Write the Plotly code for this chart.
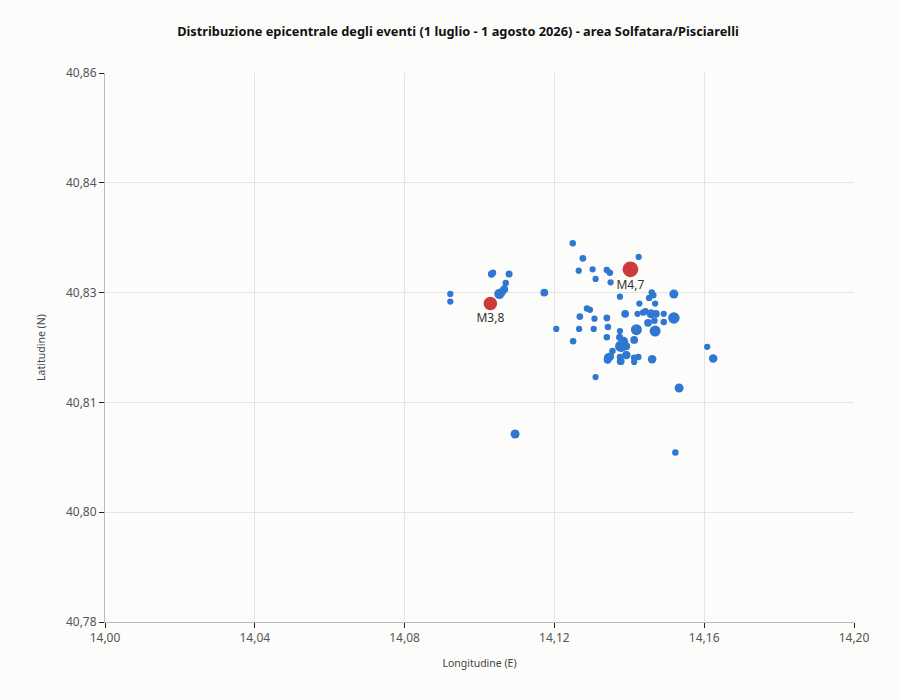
import plotly.graph_objects as go

# Blue events (lon, lat, magnitude estimate)
lon = [14.1249, 14.1276, 14.1425, 14.1265, 14.1302, 14.1340, 14.1348, 14.1310, 14.1350, 14.1460,
       14.1464, 14.1519, 14.1375, 14.1453, 14.1427, 14.1469, 14.1287, 14.1295, 14.1389, 14.1422,
       14.1437, 14.1443, 14.1458, 14.1471, 14.1492, 14.1519, 14.1268, 14.1307, 14.1340, 14.1450,
       14.1467, 14.1492, 14.1205, 14.1266, 14.1305, 14.1343, 14.1419, 14.1469, 14.1375, 14.1413,
       14.1340, 14.1374, 14.1385, 14.1250, 14.1378, 14.1392, 14.1355, 14.1392, 14.1344, 14.1349,
       14.1375, 14.1413, 14.1424, 14.1461, 14.1377, 14.1413, 14.1342, 14.1608, 14.1624, 14.1310,
       14.1533, 14.1523, 14.1095, 14.0922, 14.0922, 14.1032, 14.1036, 14.1079, 14.1070, 14.1066,
       14.1053, 14.1060, 14.1173]
lat = [40.8352, 40.8330, 40.8332, 40.8312, 40.8314, 40.8313, 40.8309, 40.8300, 40.8295, 40.8280,
       40.8276, 40.8278, 40.8274, 40.8272, 40.8264, 40.8264, 40.8257, 40.8255, 40.8249, 40.8249,
       40.8251, 40.8253, 40.8249, 40.8249, 40.8249, 40.8243, 40.8245, 40.8242, 40.8243, 40.8236,
       40.8239, 40.8237, 40.8227, 40.8227, 40.8227, 40.8230, 40.8226, 40.8224, 40.8224, 40.8211,
       40.8215, 40.8215, 40.8209, 40.8209, 40.8202, 40.8202, 40.8195, 40.8189, 40.8185, 40.8187,
       40.8186, 40.8185, 40.8186, 40.8183, 40.8180, 40.8179, 40.8182, 40.8201, 40.8184, 40.8157,
       40.8141, 40.8047, 40.8074, 40.8278, 40.8267, 40.8307, 40.8309, 40.8307, 40.8294, 40.8285,
       40.8278, 40.8281, 40.8280]
mag = [1.0, 1.1, 0.9, 0.9, 0.9, 1.0, 1.0, 0.9, 0.9, 1.0,
       1.0, 2.0, 0.9, 1.0, 0.9, 0.9, 1.0, 0.9, 1.5, 0.9,
       1.0, 1.0, 2.0, 1.5, 0.9, 3.0, 1.1, 0.9, 1.1, 1.5,
       1.0, 1.0, 0.9, 0.9, 0.9, 1.0, 2.8, 2.8, 0.9, 1.5,
       1.0, 1.2, 2.0, 1.0, 3.2, 1.5, 1.0, 1.8, 2.0, 1.5,
       1.0, 1.0, 1.0, 1.8, 1.5, 0.9, 1.5, 0.9, 1.8, 0.9,
       2.0, 1.0, 2.0, 0.9, 0.9, 1.3, 1.0, 1.2, 1.0, 1.5,
       2.5, 1.5, 1.5]

# Strongest events
big_lon = [14.1403, 14.1029]
big_lat = [40.8314, 40.8264]
big_mag = [4.7, 3.8]
big_labels = ["M4,7", "M3,8"]

x_ticks = [14.00, 14.04, 14.08, 14.12, 14.16, 14.20]
y_ticks = [40.78, 40.796, 40.812, 40.828, 40.844, 40.86]


def msize(m):
    return 4 + 2.5 * m


fig = go.Figure()
fig.add_trace(go.Scatter(
    x=lon, y=lat, mode="markers",
    marker=dict(size=[msize(m) for m in mag], color="#2f77d1", opacity=1, line=dict(width=0)),
    hoverinfo="skip", showlegend=False,
))
fig.add_trace(go.Scatter(
    x=big_lon, y=big_lat, mode="markers+text",
    marker=dict(size=[msize(m) for m in big_mag], color="#cc3a3a", opacity=1, line=dict(width=0)),
    text=big_labels, textposition="bottom center",
    textfont=dict(family="Noto Sans, sans-serif", size=12, color="#333333"),
    hoverinfo="skip", showlegend=False,
))

fig.update_layout(
    width=900, height=700,
    paper_bgcolor="#fcfcfa", plot_bgcolor="#fcfcfa",
    margin=dict(l=97, r=54, t=65, b=86),
    separators=",.",
    font=dict(family="Noto Sans, sans-serif", color="#555555"),
    title=dict(
        text="<b>Distribuzione epicentrale degli eventi (1 luglio - 1 agosto 2026) - area Solfatara/Pisciarelli</b>",
        x=0.5, xanchor="center", y=0.966, yanchor="middle",
        font=dict(size=12.8, color="#111111"),
    ),
    xaxis=dict(
        range=[14.0, 14.2], tickvals=x_ticks,
        ticktext=[f"{v:.2f}".replace(".", ",") for v in x_ticks],
        showline=True, linecolor="#bbbbbb", linewidth=1,
        ticks="outside", ticklen=5, tickcolor="#222222", tickwidth=1,
        showgrid=True, gridcolor="#e4e4e4", gridwidth=1, zeroline=False,
        tickfont=dict(size=12, color="#555555"),
        title=dict(text="Longitudine (E)", font=dict(size=10.5, color="#444444"), standoff=14),
    ),
    yaxis=dict(
        range=[40.78, 40.86], tickvals=y_ticks,
        ticktext=[f"{v:.2f}".replace(".", ",") for v in y_ticks],
        showline=True, linecolor="#bbbbbb", linewidth=1,
        ticks="outside", ticklen=5, tickcolor="#222222", tickwidth=1,
        showgrid=True, gridcolor="#e4e4e4", gridwidth=1, zeroline=False,
        tickfont=dict(size=12, color="#555555"),
        title=dict(text="Latitudine (N)", font=dict(size=10.5, color="#444444"), standoff=18),
    ),
)

fig.write_html("out.html", post_script="document.body.style.background='#fcfcfa';")
